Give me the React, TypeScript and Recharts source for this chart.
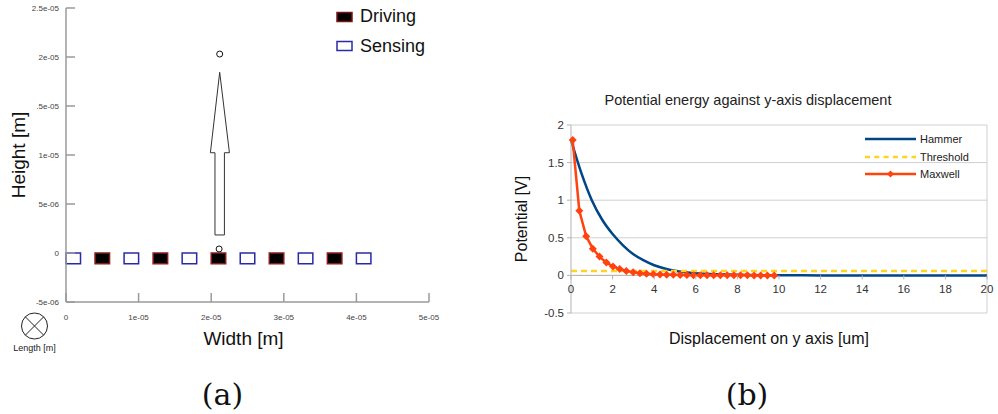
import React from "react";
import {
  ScatterChart,
  Scatter,
  LineChart,
  Line,
  XAxis,
  YAxis,
  CartesianGrid,
  ReferenceArea,
  ReferenceLine,
  Legend,
  Label,
} from "recharts";

// ---- panel (a): electrode layout ----
const widthTicks = [0, 1e-5, 2e-5, 3e-5, 4e-5, 5e-5];
const widthTickLabels = ["0", "1e-05", "2e-05", "3e-05", "4e-05", "5e-05"];
const heightTicks = [-5e-6, 0, 5e-6, 1e-5, 1.5e-5, 2e-5, 2.5e-5];
const heightTickLabels = ["-5e-06", "0", "5e-06", "1e-05", ".5e-05", "2e-05", "2.5e-05"];

const drivingStarts = [4e-6, 12e-6, 20e-6, 28e-6, 36e-6];
const sensingStarts = [0, 8e-6, 16e-6, 24e-6, 32e-6, 40e-6];
const electrodeWidth = 2e-6;
const electrodeDepth = -1.1e-6;

// arrow outline (closed polygon), in metres
const arrowX = [2.052e-5, 2.052e-5, 1.989e-5, 2.117e-5, 2.251e-5, 2.182e-5, 2.182e-5, 2.052e-5];
const arrowY = [1.84e-6, 1.023e-5, 1.023e-5, 1.844e-5, 1.023e-5, 1.023e-5, 1.84e-6, 1.84e-6];
const probeX = [2.117e-5, 2.109e-5];
const probeY = [2.03e-5, 0.41e-6];

// ---- panel (b): potential vs displacement ----
const dispTicks = [0, 2, 4, 6, 8, 10, 12, 14, 16, 18, 20];
const potentialTicks = [-0.5, 0, 0.5, 1, 1.5, 2];

const hammerX = [0, 0.5, 1, 1.5, 2, 2.5, 3, 3.5, 4, 4.5, 5, 5.5, 6, 7, 8, 10, 12, 16, 20];
const hammerV = [1.8, 1.36, 1.0, 0.74, 0.55, 0.4, 0.28, 0.2, 0.135, 0.092, 0.062, 0.043, 0.03, 0.015, 0.007, 0.002, 0, 0, 0];

const thresholdX = [0, 20];
const thresholdV = [0.06, 0.06];

const maxwellX = [
  0.08, 0.4, 0.73, 1.05, 1.37, 1.7, 2.02, 2.34, 2.66, 2.99, 3.31, 3.63, 3.96, 4.28, 4.6, 4.92,
  5.25, 5.57, 5.89, 6.22, 6.54, 6.86, 7.18, 7.51, 7.83, 8.15, 8.48, 8.8, 9.12, 9.44, 9.77,
];
const maxwellV = [
  1.8, 0.86, 0.52, 0.355, 0.25, 0.17, 0.12, 0.085, 0.06, 0.042, 0.03, 0.022, 0.016, 0.012, 0.009, 0.007,
  0.005, 0.004, 0.003, 0.0025, 0.002, 0.0015, 0.001, 0.001, 0.001, 0.0005, 0.0005, 0, 0, 0, 0,
];

const zip = (xs: number[], ys: number[]) => xs.map((x, i) => ({ x, y: ys[i] }));

const arrowData = zip(arrowX, arrowY);
const probeData = zip(probeX, probeY);
const hammerData = zip(hammerX, hammerV);
const thresholdData = zip(thresholdX, thresholdV);
const maxwellData = zip(maxwellX, maxwellV);

const SANS = "'Liberation Sans', Arial, sans-serif";
const BLUE = "#004586";
const ORANGE = "#ff420e";
const YELLOW = "#ffd320";

// layout of panel (b)
const B_H = 260;
const B_TOP = 10;
const B_XAXIS_H = 62;
const B_PLOT_H = B_H - B_TOP - B_XAXIS_H;
const Y_MIN = -0.5;
const Y_MAX = 2;
const ZERO_SHIFT = (B_PLOT_H * (0 - Y_MIN)) / (Y_MAX - Y_MIN);

function ElectrodeLegend() {
  const row = (fill: string, stroke: string, text: string) => (
    <div style={{ display: "flex", alignItems: "center", height: 29.5 }}>
      <svg width={18} height={12} style={{ marginRight: 6 }}>
        <rect x={1} y={1.5} width={15} height={9} fill={fill} stroke={stroke} strokeWidth={1.5} />
      </svg>
      <span style={{ fontFamily: SANS, fontSize: 18, color: "#111" }}>{text}</span>
    </div>
  );
  return (
    <div>
      {row("#000", "#7a1414", "Driving")}
      {row("#fff", "#2a2aa5", "Sensing")}
    </div>
  );
}

function PotentialLegend() {
  const row = (text: string, kind: "solid" | "dash" | "marker", color: string) => (
    <div style={{ display: "flex", alignItems: "center", height: 17.5 }}>
      <svg width={52} height={10} style={{ marginRight: 3 }}>
        <line x1={0} y1={5} x2={51} y2={5} stroke={color} strokeWidth={2.5} strokeDasharray={kind === "dash" ? "5 4.3" : undefined} />
        {kind === "marker" && <polygon points="25.5,1.5 29,5 25.5,8.5 22,5" fill={color} />}
      </svg>
      <span style={{ fontFamily: SANS, fontSize: 11, color: "#222" }}>{text}</span>
    </div>
  );
  return (
    <div>
      {row("Hammer", "solid", BLUE)}
      {row("Threshold", "dash", YELLOW)}
      {row("Maxwell", "marker", ORANGE)}
    </div>
  );
}

function DispTick(props: any) {
  const { x, y, payload } = props;
  const zeroY = y - ZERO_SHIFT;
  return (
    <g>
      <line x1={x} y1={zeroY} x2={x} y2={zeroY + 4} stroke="#b3b3b3" />
      <text x={x} y={zeroY + 18} textAnchor="middle" fontFamily={SANS} fontSize={11.5} fill="#333">
        {payload.value}
      </text>
    </g>
  );
}

function Diamond(props: any) {
  const { cx, cy } = props;
  if (cx == null || cy == null) return <g />;
  return <polygon points={`${cx},${cy - 4} ${cx + 4},${cy} ${cx},${cy + 4} ${cx - 4},${cy}`} fill={ORANGE} />;
}

export default function App() {
  return (
    <div style={{ position: "relative", width: 998, height: 414, background: "#fff" }}>
      <style>{"body{margin:0}"}</style>

      <svg width={998} height={414} style={{ position: "absolute", left: 0, top: 0 }}>
        {/* length axis symbol */}
        <circle cx={34.5} cy={326} r={13} fill="none" stroke="#222" strokeWidth={1} />
        <line x1={25.3} y1={316.8} x2={43.7} y2={335.2} stroke="#222" strokeWidth={1} />
        <line x1={43.7} y1={316.8} x2={25.3} y2={335.2} stroke="#222" strokeWidth={1} />
        <text x={34.5} y={351} textAnchor="middle" fontFamily={SANS} fontSize={9} fill="#222">
          Length [m]
        </text>
        <text x={748} y={105} textAnchor="middle" fontFamily={SANS} fontSize={14.5} fill="#222">
          Potential energy against y-axis displacement
        </text>
        <text x={222.5} y={405} textAnchor="middle" fontFamily="'DejaVu Serif', serif" fontSize={30} fill="#111">
          (a)
        </text>
        <text x={747} y={405} textAnchor="middle" fontFamily="'DejaVu Serif', serif" fontSize={30} fill="#111">
          (b)
        </text>
      </svg>

      <div style={{ position: "absolute", left: 0, top: 0 }}>
        <ScatterChart width={440} height={352} margin={{ top: 8, right: 11, bottom: 0, left: 0 }}>
          <XAxis
            type="number"
            dataKey="x"
            domain={[0, 5e-5]}
            ticks={widthTicks}
            tickFormatter={(_v: number, i: number) => widthTickLabels[i]}
            height={50}
            tickSize={-9}
            tickMargin={21}
            axisLine={{ stroke: "#9a9a9a", strokeWidth: 1.5 }}
            tickLine={{ stroke: "#9a9a9a", strokeWidth: 1.5 }}
            tick={{ fontSize: 8, fill: "#444", fontFamily: SANS }}
            allowDataOverflow
          >
            <Label value="Width [m]" position="insideBottom" offset={7} dx={-4} style={{ fontSize: 19, fill: "#111", fontFamily: SANS }} />
          </XAxis>
          <YAxis
            type="number"
            dataKey="y"
            domain={[-5e-6, 2.5e-5]}
            ticks={heightTicks}
            tickFormatter={(_v: number, i: number) => heightTickLabels[i]}
            width={66}
            tickSize={-9}
            tickMargin={16}
            axisLine={{ stroke: "#9a9a9a", strokeWidth: 1.5 }}
            tickLine={{ stroke: "#9a9a9a", strokeWidth: 1.5 }}
            tick={{ fontSize: 8, fill: "#444", fontFamily: SANS }}
            allowDataOverflow
          >
            <Label
              value="Height [m]"
              angle={-90}
              position="insideLeft"
              offset={18}
              style={{ fontSize: 19, fill: "#111", fontFamily: SANS, textAnchor: "middle" }}
            />
          </YAxis>
          {sensingStarts.map((s) => (
            <ReferenceArea
              key={`s${s}`}
              x1={s}
              x2={s + electrodeWidth}
              y1={electrodeDepth}
              y2={0}
              fill="#fff"
              fillOpacity={1}
              stroke="#2a2aa5"
              strokeWidth={1.5}
              ifOverflow="visible"
            />
          ))}
          {drivingStarts.map((s) => (
            <ReferenceArea
              key={`d${s}`}
              x1={s}
              x2={s + electrodeWidth}
              y1={electrodeDepth}
              y2={0}
              fill="#000"
              fillOpacity={1}
              stroke="#8a1c1c"
              strokeWidth={1.5}
              ifOverflow="visible"
            />
          ))}
          <Scatter
            data={arrowData}
            line={{ stroke: "#333", strokeWidth: 1 }}
            lineType="joint"
            shape={() => <g />}
            isAnimationActive={false}
          />
          <Scatter
            data={probeData}
            shape={(p: any) => <circle cx={p.cx} cy={p.cy} r={3} fill="#fff" stroke="#111" strokeWidth={1} />}
            isAnimationActive={false}
          />
          <Legend
            layout="vertical"
            align="center"
            verticalAlign="middle"
            content={() => <ElectrodeLegend />}
            wrapperStyle={{ top: 2, left: 336, width: 110 }}
          />
        </ScatterChart>
      </div>

      <div style={{ position: "absolute", left: 500, top: 115 }}>
        <LineChart width={498} height={B_H} margin={{ top: B_TOP, right: 11, bottom: 0, left: 0 }}>
          <CartesianGrid vertical={false} stroke="#cfcfcf" />
          <ReferenceLine x={20} stroke="#cfcfcf" />
          <ReferenceLine y={0} stroke="#b3b3b3" />
          <XAxis
            type="number"
            dataKey="x"
            domain={[0, 20]}
            ticks={dispTicks}
            height={B_XAXIS_H}
            axisLine={false}
            tickLine={false}
            tickSize={0}
            tickMargin={0}
            tick={<DispTick />}
          >
            <Label
              value="Displacement on y axis [um]"
              position="insideBottom"
              offset={31}
              dx={-10}
              style={{ fontSize: 16, fill: "#111", fontFamily: SANS }}
            />
          </XAxis>
          <YAxis
            type="number"
            domain={[Y_MIN, Y_MAX]}
            ticks={potentialTicks}
            width={71}
            tickSize={4}
            tickMargin={3}
            axisLine={{ stroke: "#b3b3b3" }}
            tickLine={{ stroke: "#b3b3b3" }}
            tick={{ fontSize: 11.5, fill: "#333", fontFamily: SANS }}
          >
            <Label
              value="Potential [V]"
              angle={-90}
              position="insideLeft"
              offset={21}
              style={{ fontSize: 16, fill: "#111", fontFamily: SANS, textAnchor: "middle" }}
            />
          </YAxis>
          <Line data={hammerData} dataKey="y" type="monotone" stroke={BLUE} strokeWidth={2.5} dot={false} isAnimationActive={false} />
          <Line
            data={thresholdData}
            dataKey="y"
            type="linear"
            stroke={YELLOW}
            strokeWidth={2.5}
            strokeDasharray="6 4"
            dot={false}
            isAnimationActive={false}
          />
          <Line
            data={maxwellData}
            dataKey="y"
            type="linear"
            stroke={ORANGE}
            strokeWidth={2.5}
            dot={(p: any) => <Diamond key={p.index} {...p} />}
            activeDot={false}
            isAnimationActive={false}
          />
          <Legend
            layout="vertical"
            align="center"
            verticalAlign="middle"
            content={() => <PotentialLegend />}
            wrapperStyle={{ top: 15.5, left: 365, width: 110 }}
          />
        </LineChart>
      </div>
    </div>
  );
}
